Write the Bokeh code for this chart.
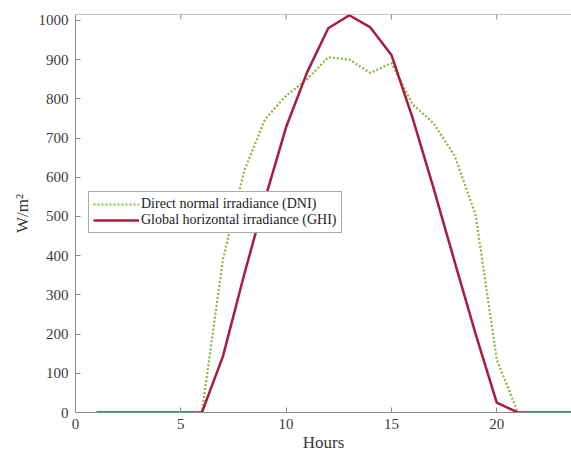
from bokeh.plotting import figure
from bokeh.models import Range1d, FixedTicker, Legend, LegendItem, Span
from bokeh.embed import file_html
from bokeh.resources import INLINE

hours = list(range(1, 25))
ghi = [0, 0, 0, 0, 0, 0, 143, 350, 545, 728, 868, 980, 1013, 982, 912, 752, 572, 385, 200, 25, 0, 0, 0, 0]
dni = [0, 0, 0, 0, 0, 0, 390, 615, 748, 808, 850, 906, 900, 866, 891, 786, 738, 655, 503, 135, 0, 0, 0, 0]
x_ticks = [0, 5, 10, 15, 20]
y_ticks = list(range(0, 1001, 100))
Y_MAX = 1015

FONT = "Liberation Serif"
AXC = "#8c8c8c"
TXC = "#3a3a3a"

p = figure(width=571, height=455, output_backend="svg", toolbar_location=None,
           x_range=Range1d(0, 23.55), y_range=Range1d(0, Y_MAX),
           min_border_left=75, min_border_right=0, min_border_top=14, min_border_bottom=43,
           x_axis_label="Hours", y_axis_label="W/m²")
p.outline_line_color = None
p.xgrid.visible = False
p.ygrid.visible = False

for ax in (p.xaxis[0], p.yaxis[0]):
    ax.axis_line_color = AXC
    ax.major_tick_line_color = AXC
    ax.major_tick_in = 5
    ax.major_tick_out = 0
    ax.minor_tick_line_color = None
    ax.major_label_text_font = FONT
    ax.major_label_text_font_size = "15px"
    ax.major_label_text_color = TXC
    ax.axis_label_text_font = FONT
    ax.axis_label_text_font_size = "17px"
    ax.axis_label_text_color = TXC
    ax.axis_label_text_font_style = "normal"

p.xaxis[0].ticker = FixedTicker(ticks=x_ticks)
p.yaxis[0].ticker = FixedTicker(ticks=y_ticks)
p.xaxis[0].major_label_standoff = 6
p.xaxis[0].axis_label_standoff = 1
p.yaxis[0].major_label_standoff = 7
p.yaxis[0].axis_label_standoff = 4

# top frame line with inward ticks
p.add_layout(Span(location=Y_MAX, dimension="width", line_color=AXC, line_width=1))
tick_len = 5 * Y_MAX / 398
p.segment(x0=x_ticks, y0=[Y_MAX] * len(x_ticks), x1=x_ticks, y1=[Y_MAX - tick_len] * len(x_ticks),
          line_color=AXC, line_width=1)

r_dni = p.line(hours, dni, line_color="#86b83c", line_width=2.2, line_dash="2 2")
r_ghi = p.line(hours, ghi, line_color="#a81c42", line_width=2.5)

legend = Legend(items=[LegendItem(label="Direct normal irradiance (DNI)", renderers=[r_dni]),
                       LegendItem(label="Global horizontal irradiance (GHI)", renderers=[r_ghi])],
                location=(13, 179))
legend.label_text_font = FONT
legend.label_text_font_size = "14px"
legend.label_text_color = "#222222"
legend.label_height = 16
legend.glyph_height = 16
legend.glyph_width = 46
legend.label_standoff = 2
legend.padding = 4
legend.spacing = 0
legend.margin = 0
legend.border_line_color = "#555555"
legend.background_fill_alpha = 1.0
p.add_layout(legend, "center")

open("out.html", "w").write(file_html(p, INLINE))
